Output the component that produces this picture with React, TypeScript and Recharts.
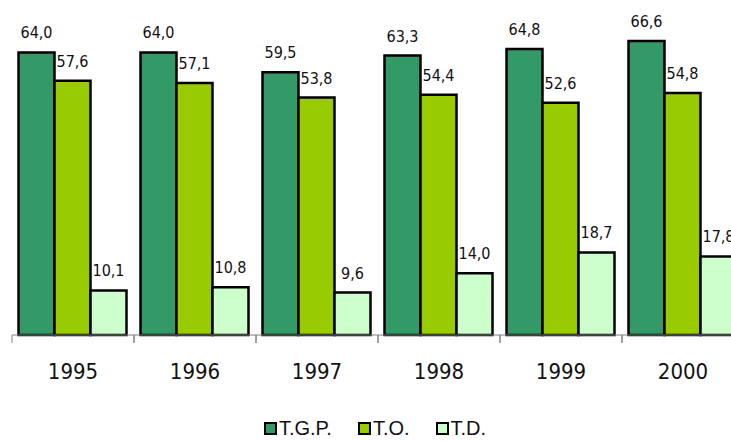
import { BarChart, Bar, XAxis, YAxis, Legend, LabelList } from 'recharts';

const years = ['1995', '1996', '1997', '1998', '1999', '2000'];
const tgp = [64.0, 64.0, 59.5, 63.3, 64.8, 66.6];
const to = [57.6, 57.1, 53.8, 54.4, 52.6, 54.8];
const td = [10.1, 10.8, 9.6, 14.0, 18.7, 17.8];

const series = [
  { key: 'tgp', name: 'T.G.P.', color: '#339966' },
  { key: 'to', name: 'T.O.', color: '#99CC00' },
  { key: 'td', name: 'T.D.', color: '#CCFFCC' },
];

const data = years.map((year, i) => ({
  year,
  tgp: tgp[i],
  to: to[i],
  td: td[i],
}));

const narrow = "'Liberation Sans Narrow', 'Arial Narrow', 'DejaVu Sans Condensed', sans-serif";
const BAND = 122;

const ValueLabel = (props: any) => {
  const { x, y, width, value } = props;
  return (
    <text
      x={x + width / 2}
      y={y - 14}
      textAnchor="middle"
      fontFamily={narrow}
      fontSize={16}
      fill="#111"
    >
      {Number(value).toFixed(1).replace('.', ',')}
    </text>
  );
};

const YearTick = (props: any) => {
  const { x, y, payload } = props;
  return (
    <g>
      <line x1={x - BAND / 2} y1={y} x2={x - BAND / 2} y2={y + 8} stroke="#808080" strokeWidth={1} />
      <line x1={x + BAND / 2} y1={y} x2={x + BAND / 2} y2={y + 8} stroke="#808080" strokeWidth={1} />
      <text x={x} y={y + 44} textAnchor="middle" fontFamily={narrow} fontSize={22} fill="#111">
        {payload.value}
      </text>
    </g>
  );
};

const LegendContent = () => (
  <div style={{
    display: 'flex',
    justifyContent: 'center',
    fontFamily: "'Liberation Sans', Arial, sans-serif",
    fontSize: '20px',
    lineHeight: '22px',
    color: '#111',
  }}>
    {series.map((s, i) => (
      <div key={s.key} style={{ display: 'flex', alignItems: 'center', marginLeft: i === 0 ? 0 : '26px' }}>
        <span style={{
          display: 'inline-block',
          width: '9px',
          height: '9px',
          backgroundColor: s.color,
          border: '2px solid #000',
          marginRight: '2px',
        }} />
        <span>{s.name}</span>
      </div>
    ))}
  </div>
);

const App = () => {
  return (
    <div style={{ position: 'absolute', left: 0, top: 0, width: '731px', height: '441px', overflow: 'hidden', background: '#fff' }}>
      <BarChart
        width={760}
        height={441}
        data={data}
        margin={{ top: 26, right: 16, bottom: 66, left: 12 }}
        barCategoryGap={6.5}
        barGap={0}
      >
        <XAxis
          dataKey="year"
          stroke="#808080"
          tickSize={0}
          tickMargin={0}
          height={40}
          tick={<YearTick />}
          interval={0}
        />
        <YAxis hide domain={[0, 70]} />
        <Legend
          layout="horizontal"
          verticalAlign="middle"
          align="center"
          content={<LegendContent />}
          wrapperStyle={{ top: '417px', left: '0px', width: '750px' }}
        />
        {series.map((s) => (
          <Bar
            key={s.key}
            dataKey={s.key}
            name={s.name}
            fill={s.color}
            stroke="#000"
            strokeWidth={2.5}
            isAnimationActive={false}
          >
            <LabelList dataKey={s.key} content={<ValueLabel />} />
          </Bar>
        ))}
      </BarChart>
    </div>
  );
};

export default App;
